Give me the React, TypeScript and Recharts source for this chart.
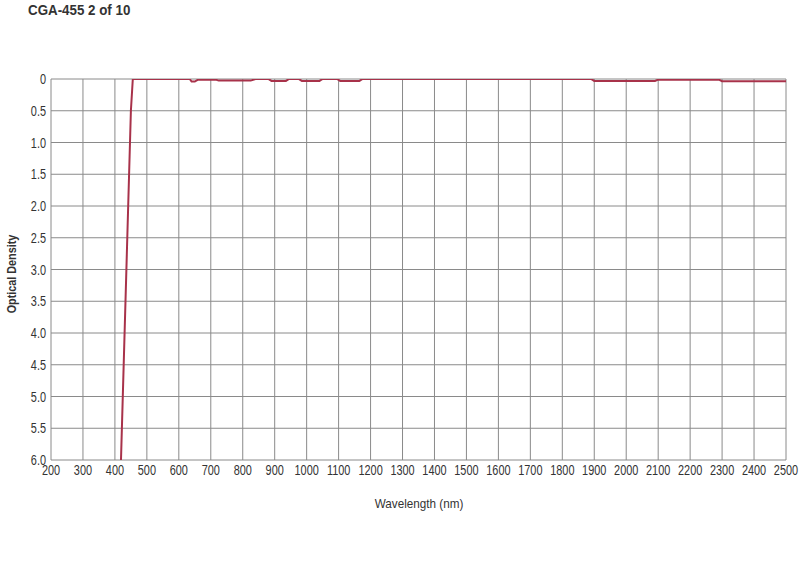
import React from 'react';
import { LineChart, Line, XAxis, YAxis, CartesianGrid, Label } from 'recharts';

const wavelengths = [
  419, 450, 456, 470, 500, 550, 600, 634, 640, 650, 660, 700, 715, 725, 780, 825, 840, 880,
  890, 935, 945, 975, 985, 1040, 1050, 1095, 1105, 1165, 1175, 1300, 1500, 1700, 1890,
  1900, 2000, 2090, 2100, 2200, 2290, 2300, 2400, 2500,
];
const opticalDensity = [
  6.0, 0.5, 0.0, 0.0, 0.0, 0.0, 0.0, 0.0, 0.04, 0.04, 0.01, 0.01, 0.01, 0.025, 0.025, 0.025, 0.0, 0.0,
  0.03, 0.03, 0.0, 0.0, 0.03, 0.03, 0.0, 0.0, 0.03, 0.03, 0.0, 0.0, 0.0, 0.0, 0.0,
  0.03, 0.03, 0.03, 0.01, 0.01, 0.01, 0.035, 0.035, 0.035,
];
const xTicks = [200, 300, 400, 500, 600, 700, 800, 900, 1000, 1100, 1200, 1300, 1400, 1500, 1600, 1700, 1800, 1900, 2000, 2100, 2200, 2300, 2400, 2500];
const yTicks = [0, 0.5, 1, 1.5, 2, 2.5, 3, 3.5, 4, 4.5, 5, 5.5, 6];

const data = wavelengths.map((wl, i) => ({ wl, od: opticalDensity[i] }));

const FONT = '"Liberation Sans", Arial, sans-serif';
const SQUEEZE = 0.78;
const TICK_SIZE = 14;

const XTick = (props: any) => {
  const { x, y, payload } = props;
  return (
    <g transform={`translate(${x},${y})`}>
      <text
        transform={`scale(${SQUEEZE},1)`}
        textAnchor="middle"
        dy="0.71em"
        fontFamily={FONT}
        fontSize={TICK_SIZE}
        fill="#333"
      >
        {payload.value}
      </text>
    </g>
  );
};

const YTick = (props: any) => {
  const { x, y, payload } = props;
  const v = payload.value as number;
  return (
    <g transform={`translate(${x},${y})`}>
      <text
        transform={`scale(${SQUEEZE},1)`}
        textAnchor="end"
        dy="0.36em"
        fontFamily={FONT}
        fontSize={TICK_SIZE}
        fill="#333"
      >
        {v === 0 ? '0' : v.toFixed(1)}
      </text>
    </g>
  );
};

export default function App() {
  return (
    <div style={{ position: 'absolute', left: 0, top: 0, width: 800, height: 567, background: '#fff' }}>
      <div
        style={{
          position: 'absolute',
          left: 28,
          top: 0,
          fontFamily: FONT,
          fontWeight: 'bold',
          fontSize: 14.5,
          lineHeight: '20px',
          color: '#333',
          transform: 'scale(0.92,1)',
          transformOrigin: 'left top',
          whiteSpace: 'nowrap',
        }}
      >
        CGA-455 2 of 10
      </div>
      <LineChart
        width={800}
        height={567}
        data={data}
        margin={{ top: 79, right: 14, bottom: 0, left: 0 }}
        style={{ fontFamily: FONT }}
      >
        <CartesianGrid stroke="#8a8a8a" strokeWidth={1} />
        <XAxis
          dataKey="wl"
          type="number"
          domain={[200, 2500]}
          ticks={xTicks}
          interval={0}
          height={107}
          axisLine={false}
          tickLine={false}
          tickSize={0}
          tickMargin={5}
          tick={<XTick />}
        >
          <Label
            content={() => (
              <g transform="translate(419,508)">
                <text
                  transform="scale(0.9,1)"
                  textAnchor="middle"
                  fontFamily={FONT}
                  fontSize={13}
                  fill="#333"
                >
                  Wavelength (nm)
                </text>
              </g>
            )}
          />
        </XAxis>
        <YAxis
          dataKey="od"
          type="number"
          reversed
          domain={[0, 6]}
          allowDataOverflow
          ticks={yTicks}
          interval={0}
          width={51}
          axisLine={false}
          tickLine={false}
          tickSize={3}
          tickMargin={2}
          tick={<YTick />}
        >
          <Label
            content={() => (
              <g transform="translate(16,274) rotate(-90)">
                <text
                  transform="scale(0.865,1)"
                  textAnchor="middle"
                  fontFamily={FONT}
                  fontWeight="bold"
                  fontSize={12.5}
                  fill="#333"
                >
                  Optical Density
                </text>
              </g>
            )}
          />
        </YAxis>
        <Line
          type="linear"
          dataKey="od"
          stroke="#a8324a"
          strokeWidth={2}
          dot={false}
          isAnimationActive={false}
        />
      </LineChart>
    </div>
  );
}
